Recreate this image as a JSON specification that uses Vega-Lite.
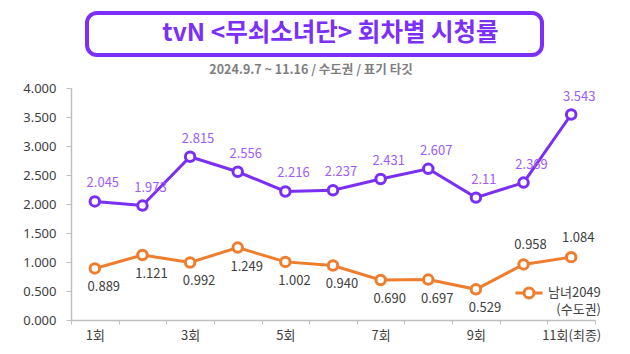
{
  "$schema": "https://vega.github.io/schema/vega-lite/v6.json",
  "background": "white",
  "padding": {"left": 22, "top": 11, "right": 0, "bottom": 0},
  "config": {
    "font": "Noto Sans CJK KR",
    "view": {"stroke": null},
    "axisY": {"labelOverlap": false, "labelSeparation": 0, "grid": false, "format": ".3f", "title": null, "tickSize": 5, "tickColor": "#BFBFBF", "domainColor": "#BFBFBF", "domainWidth": 1.5, "labelFontSize": 13, "labelColor": "#404040", "labelPadding": 10, "labelFont": "Noto Sans"}
  },
  "spacing": 6,
  "datasets": {
    "ratings": [
      {"ep": "1회", "n": 1, "total": 2.045, "m2049": 0.889},
      {"ep": "2회", "n": 2, "total": 1.973, "m2049": 1.121},
      {"ep": "3회", "n": 3, "total": 2.815, "m2049": 0.992},
      {"ep": "4회", "n": 4, "total": 2.556, "m2049": 1.249},
      {"ep": "5회", "n": 5, "total": 2.216, "m2049": 1.002},
      {"ep": "6회", "n": 6, "total": 2.237, "m2049": 0.940},
      {"ep": "7회", "n": 7, "total": 2.431, "m2049": 0.690},
      {"ep": "8회", "n": 8, "total": 2.607, "m2049": 0.697},
      {"ep": "9회", "n": 9, "total": 2.11, "m2049": 0.529},
      {"ep": "10회", "n": 10, "total": 2.369, "m2049": 0.958},
      {"ep": "11회(최종)", "n": 11, "total": 3.543, "m2049": 1.084}
    ],
    "heading": [{"t": "tvN <무쇠소녀단> 회차별 시청률"}]
  },
  "vconcat": [
    {
      "spacing": 0,
      "hconcat": [
        {
          "width": 14,
          "height": 42,
          "data": {"name": "heading"},
          "mark": {"type": "text", "opacity": 0},
          "encoding": {"text": {"value": ""}}
        },
        {
          "width": 455,
          "height": 42,
          "view": {"stroke": "#7B2FF7", "strokeWidth": 4, "cornerRadius": 10, "fill": "white"},
          "data": {"name": "heading"},
          "mark": {"type": "text", "fontSize": 24.5, "fontWeight": "bold", "color": "#7B2FF7", "baseline": "middle", "align": "center", "dx": 16},
          "encoding": {"text": {"field": "t"}}
        }
      ]
    },
    {
      "width": 524,
      "height": 232,
      "data": {"name": "ratings"},
      "title": {
        "text": "2024.9.7 ~ 11.16 / 수도권 / 표기 타깃",
        "fontSize": 12.5,
        "fontWeight": "bold",
        "color": "#7F7F7F",
        "anchor": "middle",
        "dx": -22,
        "offset": 6
      },
      "encoding": {
        "x": {
          "field": "ep",
          "type": "nominal",
          "sort": null,
          "scale": {"paddingInner": 0, "paddingOuter": 0},
          "axis": {
            "title": null,
            "labelAngle": 0,
            "labelExpr": "indexof(['1회','3회','5회','7회','9회','11회(최종)'], datum.value) >= 0 ? datum.value : ''",
            "tickBand": "extent",
            "tickSize": 4,
            "tickColor": "#BFBFBF",
            "domainColor": "#BFBFBF",
            "domainWidth": 1.5,
            "labelFontSize": 13,
            "labelColor": "#404040",
            "labelPadding": 5
          }
        }
      },
      "layer": [
        {
          "mark": {"type": "line", "color": "#7B2FF2", "strokeWidth": 3},
          "encoding": {
            "y": {
              "field": "total",
              "type": "quantitative",
              "scale": {"domain": [0, 4], "nice": false},
              "axis": {"values": [0, 0.5, 1, 1.5, 2, 2.5, 3, 3.5, 4], "labelOverlap": false}
            }
          }
        },
        {
          "mark": {"type": "point", "shape": "circle", "filled": true, "fill": "white", "stroke": "#7B2FF2", "strokeWidth": 3, "size": 90, "opacity": 1},
          "encoding": {"y": {"field": "total", "type": "quantitative", "axis": {"values": [0, 0.5, 1, 1.5, 2, 2.5, 3, 3.5, 4], "labelOverlap": false}}}
        },
        {
          "mark": {"type": "text", "color": "#9D5CF6", "fontSize": 13, "dx": 8, "dy": -18, "baseline": "middle"},
          "encoding": {
            "y": {"field": "total", "type": "quantitative", "axis": {"values": [0, 0.5, 1, 1.5, 2, 2.5, 3, 3.5, 4], "labelOverlap": false}},
            "text": {"field": "total", "type": "quantitative"}
          }
        },
        {
          "mark": {"type": "line", "strokeWidth": 3},
          "encoding": {
            "y": {"field": "m2049", "type": "quantitative", "axis": {"values": [0, 0.5, 1, 1.5, 2, 2.5, 3, 3.5, 4], "labelOverlap": false}},
            "stroke": {
              "datum": "남녀2049",
              "scale": {"range": ["#EE7E2E"]},
              "legend": {
                "orient": "none",
                "legendX": 443,
                "legendY": 265,
                "padding": 0,
                "title": "(수도권)",
                "titleOrient": "bottom",
                "titleAnchor": "end",
                "titleFontWeight": "normal",
                "titleFontSize": 13,
                "titleColor": "#404040",
                "titlePadding": 0,
                "labelFontSize": 13,
                "labelColor": "#404040",
                "labelOffset": 4,
                "symbolType": "M-1,0L-0.37,0M0.37,0L1,0M-0.37,0A0.37,0.37,0,1,1,0.37,0A0.37,0.37,0,1,1,-0.37,0",
                "symbolSize": 729,
                "symbolStrokeWidth": 3,
                "symbolStrokeColor": "#EE7E2E",
                "symbolFillColor": "white"
              }
            }
          }
        },
        {
          "mark": {"type": "point", "shape": "circle", "filled": true, "fill": "white", "stroke": "#EE7E2E", "strokeWidth": 3, "size": 90, "opacity": 1},
          "encoding": {"y": {"field": "m2049", "type": "quantitative", "axis": {"values": [0, 0.5, 1, 1.5, 2, 2.5, 3, 3.5, 4], "labelOverlap": false}}}
        },
        {
          "transform": [{"filter": "datum.n <= 9"}],
          "mark": {"type": "text", "color": "#404040", "fontSize": 13, "dx": 9, "dy": 19, "baseline": "middle"},
          "encoding": {
            "y": {"field": "m2049", "type": "quantitative", "axis": {"values": [0, 0.5, 1, 1.5, 2, 2.5, 3, 3.5, 4], "labelOverlap": false}},
            "text": {"field": "m2049", "type": "quantitative", "format": ".3f"}
          }
        },
        {
          "transform": [{"filter": "datum.n >= 10"}],
          "mark": {"type": "text", "color": "#404040", "fontSize": 13, "dx": 7, "dy": -19, "baseline": "middle"},
          "encoding": {
            "y": {"field": "m2049", "type": "quantitative", "axis": {"values": [0, 0.5, 1, 1.5, 2, 2.5, 3, 3.5, 4], "labelOverlap": false}},
            "text": {"field": "m2049", "type": "quantitative", "format": ".3f"}
          }
        }
      ]
    }
  ]
}
